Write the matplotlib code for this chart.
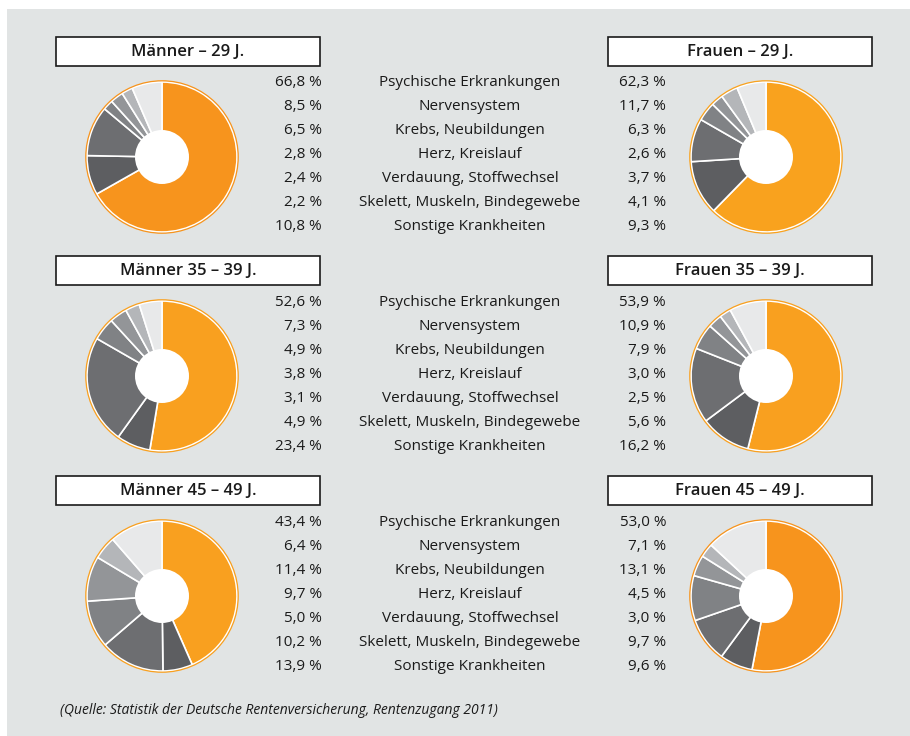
import matplotlib
matplotlib.use("Agg")
import matplotlib.pyplot as plt
from matplotlib.patches import Rectangle, Circle

# Data
categories = ["Psychische Erkrankungen", "Nervensystem", "Krebs, Neubildungen",
              "Herz, Kreislauf", "Verdauung, Stoffwechsel",
              "Skelett, Muskeln, Bindegewebe", "Sonstige Krankheiten"]

titles_men = ["Männer – 29 J.", "Männer 35 – 39 J.", "Männer 45 – 49 J."]
titles_women = ["Frauen – 29 J.", "Frauen 35 – 39 J.", "Frauen 45 – 49 J."]

men_29 = [66.8, 8.5, 6.5, 2.8, 2.4, 2.2, 10.8]
men_35 = [52.6, 7.3, 4.9, 3.8, 3.1, 4.9, 23.4]
men_45 = [43.4, 6.4, 11.4, 9.7, 5.0, 10.2, 13.9]
women_29 = [62.3, 11.7, 6.3, 2.6, 3.7, 4.1, 9.3]
women_35 = [53.9, 10.9, 7.9, 3.0, 2.5, 5.6, 16.2]
women_45 = [53.0, 7.1, 13.1, 4.5, 3.0, 9.7, 9.6]

# order of the slices in the pies (clockwise from 12 o'clock)
slice_order = [0, 1, 6, 5, 3, 4, 2]

men = [men_29, men_35, men_45]
women = [women_29, women_35, women_45]

source = "(Quelle: Statistik der Deutsche Rentenversicherung, Rentenzugang 2011)"

# Style
W, H = 910, 736
bg = "#e1e4e4"
oranges_men = ["#f7941d", "#f9a01f", "#f9a01f"]
oranges_women = ["#f9a21e", "#f9a01f", "#f7941d"]
greys = ["#5d5e61", "#6d6e71", "#808285", "#939598", "#b4b6b9", "#e8e9ea"]
font = "Open Sans"
txt = "#1a1a1a"


def fmt(v):
    return f"{v:.1f}".replace(".", ",") + " %"


fig = plt.figure(figsize=(W / 100, H / 100), dpi=100)
fig.patch.set_facecolor("white")
ax = fig.add_axes([0, 0, 1, 1])

row_top = [37, 256, 476]
radius = 75
hole = 27


def draw_pie(values, cx, cy, orange):
    vals = [values[k] for k in slice_order]
    ax.pie(vals, colors=[orange] + greys, center=(cx, cy), radius=radius,
           startangle=90, counterclock=False, frame=True,
           wedgeprops=dict(edgecolor="white", linewidth=1.2))
    ax.add_patch(Circle((cx, cy), radius + 1.2, facecolor="none",
                        edgecolor=orange, linewidth=0.9, zorder=3))
    ax.add_patch(Circle((cx, cy), hole, facecolor="white",
                        edgecolor="none", zorder=4))


def draw_title(x0, top, text):
    ax.add_patch(Rectangle((x0, H - top - 29), 264, 29, facecolor="white",
                           edgecolor=txt, linewidth=1.2, zorder=2))
    ax.text(x0 + 132, H - top - 15, text, ha="center", va="center",
            fontsize=12, fontweight="semibold", family=font, color=txt,
            zorder=3)


ax.add_patch(Rectangle((7, 0), W - 7, H - 9, facecolor=bg, edgecolor="none",
                       zorder=0))

for i in range(3):
    top = row_top[i]
    draw_title(56, top, titles_men[i])
    draw_title(608, top, titles_women[i])
    cy = H - (top + 120)
    draw_pie(men[i], 162, cy, oranges_men[i])
    draw_pie(women[i], 766, cy, oranges_women[i])
    for j, cat in enumerate(categories):
        y = H - (top + 46 + 24 * j)
        ax.text(322, y, fmt(men[i][j]), ha="right", va="center",
                fontsize=11, family=font, color=txt)
        ax.text(470, y, cat, ha="center", va="center",
                fontsize=11, family=font, color=txt)
        ax.text(666, y, fmt(women[i][j]), ha="right", va="center",
                fontsize=11, family=font, color=txt)

ax.text(60, H - 710, source, ha="left", va="center", fontsize=10,
        style="italic", family=font, color=txt)

ax.set_xlim(0, W)
ax.set_ylim(0, H)
ax.set_aspect("auto")
ax.axis("off")

fig.savefig("out.png", dpi=100, facecolor=fig.get_facecolor())
